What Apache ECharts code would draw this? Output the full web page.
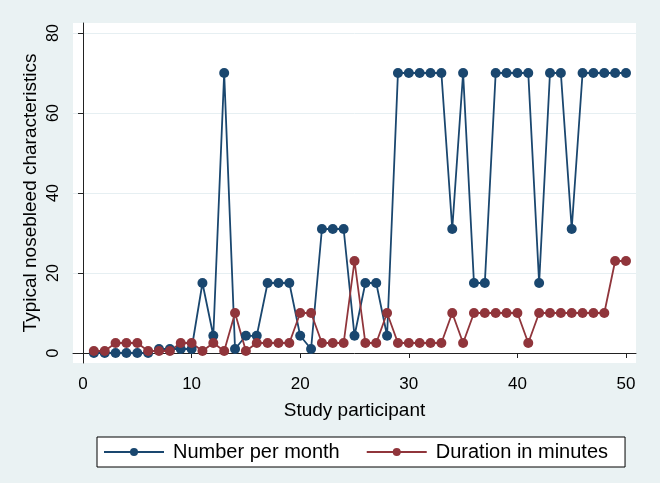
<!DOCTYPE html>
<html>
<head>
<meta charset="utf-8">
<script src="https://cdn.jsdelivr.net/npm/echarts@6/dist/echarts.min.js"></script>
<style>
html,body{margin:0;padding:0;background:#EAF2F3;}
#c{width:660px;height:483px;}
</style>
</head>
<body>
<div id="c"></div>
<script>
var participants = [1,2,3,4,5,6,7,8,9,10,11,12,13,14,15,16,17,18,19,20,21,22,23,24,25,26,27,28,29,30,31,32,33,34,35,36,37,38,39,40,41,42,43,44,45,46,47,48,49,50];
var numberPerMonth = [0,0,0,0,0,0,1,1,1,1,17.5,4.3,70,1,4.3,4.3,17.5,17.5,17.5,4.3,1,31,31,31,4.3,17.5,17.5,4.3,70,70,70,70,70,31,70,17.5,17.5,70,70,70,70,17.5,70,70,31,70,70,70,70,70];
var durationMinutes = [0.5,0.5,2.5,2.5,2.5,0.5,0.5,0.5,2.5,2.5,0.5,2.5,0.5,10,0.5,2.5,2.5,2.5,2.5,10,10,2.5,2.5,2.5,23,2.5,2.5,10,2.5,2.5,2.5,2.5,2.5,10,2.5,10,10,10,10,10,2.5,10,10,10,10,10,10,10,23,23];
var xTicks = [0,10,20,30,40,50];
var yTicks = [0,20,40,60,80];
var seriesNames = ['Number per month','Duration in minutes'];
var colors = ['#1A476F','#90353B'];

function pairs(vals){ return participants.map(function(p,i){ return [p, vals[i]]; }); }

var chart = echarts.init(document.getElementById('c'), null, {renderer:'canvas'});
var font = 'Liberation Sans, Arial, sans-serif';
chart.setOption({
  backgroundColor:'#EAF2F3',
  animation:false,
  textStyle:{fontFamily:font},
  grid:{left:73,right:24,top:23,bottom:120,show:true,backgroundColor:'#fff',borderWidth:0},
  xAxis:{
    type:'value', min:-0.92, max:50.92,
    name:'Study participant', nameLocation:'middle', nameGap:38, nameMoveOverlap:false,
    nameTextStyle:{fontSize:19,color:'#000',fontFamily:font},
    axisLine:{show:true,lineStyle:{color:'#222',width:1}},
    axisTick:{show:true,length:5,customValues:xTicks,lineStyle:{color:'#222'}},
    axisLabel:{customValues:xTicks,fontSize:17,color:'#000',margin:13,fontFamily:font},
    splitLine:{show:false}
  },
  yAxis:{
    type:'value', min:-2.5, max:82.5,
    name:'Typical nosebleed characteristics', nameLocation:'middle', nameGap:33, nameMoveOverlap:false,
    nameTextStyle:{fontSize:19,color:'#000',fontFamily:font},
    axisLine:{show:true,lineStyle:{color:'#222',width:1}},
    axisTick:{show:true,length:5,customValues:yTicks,lineStyle:{color:'#222'}},
    axisLabel:{customValues:yTicks,fontSize:16,color:'#000',rotate:90,margin:11,fontFamily:font},
    splitLine:{show:true,lineStyle:{color:'#E6EFF2',width:1}}
  },
  legend:{
    left:97, top:437, padding:[5,17,5,6], itemWidth:60, itemHeight:10, itemGap:26,
    borderColor:'#000', borderWidth:1, backgroundColor:'#fff',
    textStyle:{fontSize:20,color:'#000',fontFamily:font,padding:[0,0,0,4]},
    data:seriesNames
  },
  series:[
    {name:seriesNames[0], type:'line', data:pairs(numberPerMonth), symbol:'circle', symbolSize:10,
     itemStyle:{color:colors[0]}, lineStyle:{color:colors[0],width:1.8}},
    {name:seriesNames[1], type:'line', data:pairs(durationMinutes), symbol:'circle', symbolSize:10,
     itemStyle:{color:colors[1]}, lineStyle:{color:colors[1],width:1.8}}
  ]
});
</script>
</body>
</html>
